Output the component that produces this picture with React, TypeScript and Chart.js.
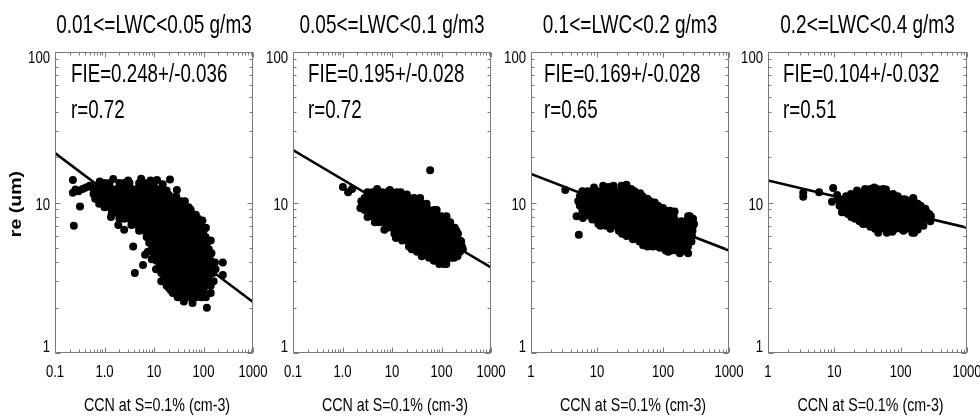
import React, { useEffect, useRef } from 'react';
import { Chart, registerables } from 'chart.js';
Chart.register(...registerables);

type Row = [number, number[]];
type Pt = [number, number];

// ---------- texts ----------
const panelTitles = ['0.01<=LWC<0.05 g/m3', '0.05<=LWC<0.1 g/m3', '0.1<=LWC<0.2 g/m3', '0.2<=LWC<0.4 g/m3'];
const fieLabels = ['FIE=0.248+/-0.036', 'FIE=0.195+/-0.028', 'FIE=0.169+/-0.028', 'FIE=0.104+/-0.032'];
const rLabels = ['r=0.72', 'r=0.72', 'r=0.65', 'r=0.51'];
const xAxisTitle = 'CCN at S=0.1% (cm-3)';
const yAxisTitle = 're (um)';

// ---------- ticks ----------
const xTicksWide = [0.1, 1, 10, 100, 1000];
const xTickLabelsWide = ['0.1', '1.0', '10', '100', '1000'];
const xTicksNarrow = [1, 10, 100, 1000];
const xTickLabelsNarrow = ['1', '10', '100', '1000'];
const yTicks = [1, 10, 100];
const yTickLabels = ['1', '10', '100'];

// ---------- regression lines [CCN, re] ----------
const fit1: Pt[] = [[0.1, 21.3], [1000, 2.18]];
const fit2: Pt[] = [[0.1, 22.3], [1000, 3.7]];
const fit3: Pt[] = [[1, 15.5], [1000, 4.8]];
const fit4: Pt[] = [[1, 14.0], [1000, 6.8]];

// ---------- scatter data: rows of [re, CCN values] + single points [CCN, re] ----------
const p1Rows: Row[] = [
  [13.5, [0.8, 1.0, 1.26, 2.0, 2.5, 3.2, 5.0, 6.3, 8.0, 10]],
  [12.3, [0.71, 0.9, 1.12, 1.4, 1.8, 2.2, 2.8, 3.5, 4.5, 5.6, 7.1, 9.0, 11.2, 14]],
  [11.2, [0.8, 1.0, 1.26, 1.6, 2.0, 2.5, 3.2, 4.0, 5.0, 6.3, 8.0, 10, 12.6, 16, 20]],
  [10.2, [0.9, 1.12, 1.4, 1.8, 2.2, 2.8, 3.5, 4.5, 5.6, 7.1, 9.0, 11.2, 14, 18, 22, 28, 35, 42]],
  [9.3, [1.0, 1.26, 1.6, 2.0, 2.5, 3.2, 4.0, 5.0, 6.3, 8.0, 10, 12.6, 16, 20, 25, 32, 40, 50]],
  [8.5, [1.4, 1.8, 2.2, 2.8, 3.5, 4.5, 5.6, 7.1, 9.0, 11.2, 14, 18, 22, 28, 35, 45, 56]],
  [7.8, [2.0, 2.5, 3.2, 4.0, 5.0, 6.3, 8.0, 10, 12.6, 16, 20, 25, 32, 40, 50, 63, 78]],
  [7.1, [3.5, 4.5, 5.6, 7.1, 9.0, 11.2, 14, 18, 22, 28, 35, 45, 56, 71, 88]],
  [6.5, [5.0, 6.3, 8.0, 10, 12.6, 16, 20, 25, 32, 40, 50, 63, 80, 100]],
  [5.9, [7.1, 9.0, 11.2, 14, 18, 22, 28, 35, 45, 56, 71, 90, 110]],
  [5.4, [8.0, 10, 12.6, 16, 20, 25, 32, 40, 50, 63, 80, 100, 117]],
  [4.9, [9.0, 11.2, 14, 18, 22, 28, 35, 45, 56, 71, 90, 112, 128]],
  [4.5, [10, 12.6, 16, 20, 25, 32, 40, 50, 63, 80, 100, 126]],
  [4.1, [11.2, 14, 18, 22, 28, 35, 45, 56, 71, 90, 112, 140]],
  [3.7, [12.6, 16, 20, 25, 32, 40, 50, 63, 80, 100, 126, 148]],
  [3.4, [14, 18, 22, 28, 35, 45, 56, 71, 90, 112, 140, 155]],
  [3.1, [16, 20, 25, 32, 40, 50, 63, 80, 100, 126]],
  [2.8, [18, 22, 28, 35, 45, 56, 71, 90, 112, 140]],
  [2.6, [22, 25, 32, 40, 50, 63, 80, 100]],
  [2.35, [30, 35, 45, 56, 71, 90, 112]],
];
const p1Extra: Pt[] = [
  [0.23, 14.1], [0.23, 11.6], [0.24, 7.0], [0.32, 9.4], [0.26, 12.2], [0.3, 11.9], [0.36, 12.3],
  [0.42, 12.6], [0.5, 12.9], [0.58, 12.5], [0.8, 13.8], [0.78, 9.8], [1.35, 8.0], [1.9, 7.1],
  [2.5, 6.6], [3.8, 5.1], [4.1, 3.4], [6.0, 3.85], [6.6, 4.5], [11.5, 14.1], [21, 14.2], [29, 12.1],
  [24, 2.5], [117, 2.0], [85, 7.4], [170, 4.0], [245, 4.0], [245, 3.3],
  [1.5, 14.3], [3.0, 14.0], [5.5, 14.4], [8.5, 14.0], [15, 13.2], [18, 12.0], [28, 11.0], [55, 9.0],
  [70, 8.3], [95, 7.6], [112, 6.8], [140, 5.6], [145, 4.6], [175, 3.6], [160, 3.0], [140, 2.5],
  [60, 2.15], [40, 2.2], [20, 2.7], [14, 3.0], [11, 3.6], [9, 4.2], [7.5, 4.7], [0.6, 11.4], [0.65, 10.6],
];

const p2Rows: Row[] = [
  [11.7, [3.2, 4.0, 5.0, 6.3, 8.0, 10, 12.6, 15]],
  [10.7, [2.8, 3.5, 4.5, 5.6, 7.1, 9.0, 11.2, 14, 18, 22, 28, 37]],
  [9.8, [2.5, 3.2, 4.0, 5.0, 6.3, 8.0, 10, 12.6, 16, 20, 25, 32, 40, 50]],
  [8.9, [2.8, 3.5, 4.5, 5.6, 7.1, 9.0, 11.2, 14, 18, 22, 28, 35, 45, 56, 71, 80]],
  [8.1, [4.0, 5.0, 6.3, 8.0, 10, 12.6, 16, 20, 25, 32, 40, 50, 63, 80, 100, 126]],
  [7.4, [5.6, 7.1, 9.0, 11.2, 14, 18, 22, 28, 35, 45, 56, 71, 90, 112, 150]],
  [6.8, [8.0, 10, 12.6, 16, 20, 25, 32, 40, 50, 63, 80, 100, 126, 160, 185]],
  [6.2, [11.2, 14, 18, 22, 28, 35, 45, 56, 71, 90, 112, 140, 180, 215]],
  [5.6, [16, 20, 25, 32, 40, 50, 63, 80, 100, 126, 160, 200, 236]],
  [5.1, [22, 28, 35, 45, 56, 71, 90, 112, 140, 180, 225, 258]],
  [4.7, [32, 40, 50, 63, 80, 100, 126, 160, 200, 236]],
  [4.3, [56, 71, 90, 112, 140, 180]],
  [3.9, [90, 112, 125]],
];
const p2Extra: Pt[] = [
  [1.02, 12.7], [1.3, 11.7], [1.56, 12.3], [59, 16.4],
  [5.0, 12.3], [9, 12.1], [20, 11.3], [30, 10.2], [45, 9.4], [60, 8.5], [95, 7.8], [130, 7.0],
  [200, 6.5], [250, 5.5], [270, 4.9], [160, 4.3], [210, 4.4], [70, 4.1], [40, 4.4], [25, 4.9],
  [12, 5.8], [7, 6.6], [4.5, 7.4], [3.2, 8.0], [2.3, 9.2], [2.4, 10.2],
];

const p3Rows: Row[] = [
  [12.9, [12.4, 17.8, 23.5]],
  [11.9, [6.0, 7.2, 8.6, 10.3, 12.4, 14.9, 17.8, 21.4, 25.7, 30.8, 37]],
  [11.0, [5.5, 6.6, 7.9, 9.4, 11.3, 13.6, 16.3, 19.6, 23.5, 28, 34, 40, 49]],
  [10.2, [5.2, 6.0, 7.2, 8.6, 10.3, 12.4, 14.9, 17.8, 21.4, 25.7, 30.8, 37, 44, 53, 64]],
  [9.5, [5.5, 6.6, 7.9, 9.4, 11.3, 13.6, 16.3, 19.6, 23.5, 28, 34, 40, 49, 58, 70, 84]],
  [8.8, [6.0, 7.2, 8.6, 10.3, 12.4, 14.9, 17.8, 21.4, 25.7, 30.8, 37, 44, 53, 64, 77, 92, 110, 128]],
  [8.1, [7.9, 9.4, 11.3, 13.6, 16.3, 19.6, 23.5, 28, 34, 40, 49, 58, 70, 84, 101, 121, 145, 240, 255]],
  [7.5, [10.3, 12.4, 14.9, 17.8, 21.4, 25.7, 30.8, 37, 44, 53, 64, 77, 92, 110, 132, 159, 190, 228, 280]],
  [7.0, [11.3, 13.6, 16.3, 19.6, 23.5, 28, 34, 40, 49, 58, 70, 84, 101, 121, 145, 174, 209, 250, 285]],
  [6.5, [21.4, 25.7, 30.8, 37, 44, 53, 64, 77, 92, 110, 132, 159, 190, 228, 280]],
  [6.0, [28, 34, 40, 49, 58, 70, 84, 101, 121, 145, 174, 209, 250, 275]],
  [5.5, [44, 53, 64, 77, 92, 110, 132, 159, 190, 228, 257]],
  [5.1, [58, 70, 84, 101, 121, 145, 174, 209, 239]],
  [4.8, [110, 132, 159, 190, 215]],
];
const p3Extra: Pt[] = [
  [3.3, 12.1], [4.9, 8.1], [5.3, 6.1], [6.1, 7.9], [7.3, 8.3], [28, 13.1],
  [9, 12.6], [15, 12.7], [33, 12.3], [45, 11.5], [58, 10.6], [75, 10.0], [100, 9.2], [150, 8.7],
  [285, 7.8], [295, 7.2], [270, 5.5], [240, 4.6], [180, 4.6], [120, 4.7], [90, 5.0], [50, 5.2],
  [35, 5.7], [24, 6.2], [16, 6.7], [10.5, 7.2], [8.5, 7.7],
];

const p4Rows: Row[] = [
  [12.3, [29, 35, 44, 54]],
  [11.4, [17.8, 21.4, 25.7, 30.8, 37, 44, 53, 64, 77]],
  [10.5, [11.3, 13.6, 16.3, 19.6, 23.5, 28, 34, 40, 49, 58, 70, 84, 101, 115]],
  [9.8, [12.4, 14.9, 17.8, 21.4, 25.7, 30.8, 37, 44, 53, 64, 77, 92, 110, 132, 159, 180]],
  [9.1, [13.6, 16.3, 19.6, 23.5, 28, 34, 40, 49, 58, 70, 84, 101, 121, 145, 174, 209, 235]],
  [8.4, [16, 17.8, 21.4, 25.7, 30.8, 37, 44, 53, 64, 77, 92, 110, 132, 159, 190, 228, 270]],
  [7.8, [20.5, 23.5, 28, 34, 40, 49, 58, 70, 84, 101, 121, 145, 174, 209, 250, 275]],
  [7.2, [27, 30.8, 37, 44, 53, 64, 77, 92, 110, 132, 159, 190]],
  [6.7, [41, 49, 58, 70, 84, 101, 121, 145, 160]],
  [6.3, [46, 62, 150]],
];
const p4Extra: Pt[] = [
  [3.4, 11.6], [3.4, 10.9], [5.9, 11.7], [9.6, 12.5], [11, 11.2], [9.2, 10.1],
  [155, 10.7], [158, 10.2], [155, 6.5], [160, 6.3],
  [22, 12.0], [40, 12.6], [60, 12.2], [90, 11.0], [130, 10.3], [200, 9.5], [240, 8.8], [285, 8.1],
  [280, 7.5], [220, 7.0], [180, 6.6], [110, 6.5], [75, 6.4], [35, 6.9], [24, 7.5], [18, 8.0],
  [13, 8.6], [12, 9.5], [15, 11.0],
];

// ---------- layout (pixels) ----------
const W = 980;
const H = 417;
const PLOT_TOP = 52;
const PLOT_BOTTOM = 353;
const FONT = '"Liberation Sans", Arial, sans-serif';

interface Panel {
  left: number; right: number; xMin: number; xMax: number;
  xTicks: number[]; xLabels: string[];
  rows: Row[]; extra: Pt[]; fit: Pt[];
  title: string; fie: string; r: string; textDx: number; showYTitle: boolean;
}

const panels: Panel[] = [
  { left: 55, right: 253, xMin: 0.1, xMax: 1000, xTicks: xTicksWide, xLabels: xTickLabelsWide, rows: p1Rows, extra: p1Extra, fit: fit1, title: panelTitles[0], fie: fieLabels[0], r: rLabels[0], textDx: 16, showYTitle: true },
  { left: 293, right: 491, xMin: 0.1, xMax: 1000, xTicks: xTicksWide, xLabels: xTickLabelsWide, rows: p2Rows, extra: p2Extra, fit: fit2, title: panelTitles[1], fie: fieLabels[1], r: rLabels[1], textDx: 15, showYTitle: false },
  { left: 531, right: 729, xMin: 1, xMax: 1000, xTicks: xTicksNarrow, xLabels: xTickLabelsNarrow, rows: p3Rows, extra: p3Extra, fit: fit3, title: panelTitles[2], fie: fieLabels[2], r: rLabels[2], textDx: 13, showYTitle: false },
  { left: 768, right: 967, xMin: 1, xMax: 1000, xTicks: xTicksNarrow, xLabels: xTickLabelsNarrow, rows: p4Rows, extra: p4Extra, fit: fit4, title: panelTitles[3], fie: fieLabels[3], r: rLabels[3], textDx: 15, showYTitle: false },
];

function toPoints(rows: Row[], extra: Pt[]) {
  const out: { x: number; y: number }[] = [];
  rows.forEach(([re, ns]) => ns.forEach((n) => out.push({ x: n, y: re })));
  extra.forEach(([n, re]) => out.push({ x: n, y: re }));
  return out;
}

function drawText(ctx: CanvasRenderingContext2D, text: string, x: number, y: number, font: string, sx: number, align: CanvasTextAlign, baseline: CanvasTextBaseline = 'alphabetic') {
  ctx.save();
  ctx.font = font;
  ctx.fillStyle = '#000';
  ctx.textAlign = align;
  ctx.textBaseline = baseline;
  ctx.translate(x, y);
  ctx.scale(sx, 1);
  ctx.fillText(text, 0, 0);
  ctx.restore();
}

function makeDecor(p: Panel) {
  return {
    id: 'decor',
    afterDatasetsDraw(chart: any) {
      const ctx: CanvasRenderingContext2D = chart.ctx;
      const { left, right, top, bottom } = chart.chartArea;
      const xs = chart.scales.x;
      const ys = chart.scales.y;
      const l = Math.round(left) + 0.5;
      const r = Math.round(right) - 0.5;
      const t = Math.round(top) + 0.5;
      const b = Math.round(bottom) - 0.5;
      ctx.save();
      ctx.strokeStyle = '#7a7a7a';
      ctx.lineWidth = 1;
      ctx.strokeRect(l, t, r - l, b - t);
      ctx.beginPath();
      const e0x = Math.round(Math.log10(p.xMin));
      const e1x = Math.round(Math.log10(p.xMax));
      for (let e = e0x; e <= e1x; e++) {
        for (let k = 1; k <= 9; k++) {
          if (e === e1x && k > 1) break;
          const v = k * Math.pow(10, e);
          const px = Math.round(xs.getPixelForValue(v)) + 0.5;
          const len = k === 1 ? 5 : 3;
          ctx.moveTo(px, b); ctx.lineTo(px, b - len);
          ctx.moveTo(px, t); ctx.lineTo(px, t + len);
        }
      }
      for (let e = 0; e <= 2; e++) {
        for (let k = 1; k <= 9; k++) {
          if (e === 2 && k > 1) break;
          const v = k * Math.pow(10, e);
          const py = Math.round(ys.getPixelForValue(v)) + 0.5;
          const len = k === 1 ? 5 : 3;
          ctx.moveTo(l, py); ctx.lineTo(l + len, py);
          ctx.moveTo(r, py); ctx.lineTo(r - len, py);
        }
      }
      ctx.stroke();
      ctx.restore();
    },
    afterDraw(chart: any) {
      const ctx: CanvasRenderingContext2D = chart.ctx;
      const { left, right, top, bottom } = chart.chartArea;
      const xs = chart.scales.x;
      const ys = chart.scales.y;
      const cx = (left + right) / 2;
      drawText(ctx, p.title, cx, 33, `25px ${FONT}`, 0.76, 'center');
      drawText(ctx, p.fie, left + p.textDx, 82, `25px ${FONT}`, 0.75, 'left');
      drawText(ctx, p.r, left + p.textDx, 118, `25px ${FONT}`, 0.75, 'left');
      p.xTicks.forEach((v, i) => {
        drawText(ctx, p.xLabels[i], xs.getPixelForValue(v), 377, `16px ${FONT}`, 0.82, 'center');
      });
      yTicks.forEach((v, i) => {
        const py = Math.min(Math.max(ys.getPixelForValue(v) + 3.5, top + 7), bottom - 5);
        drawText(ctx, yTickLabels[i], left - 5, py, `16px ${FONT}`, 0.82, 'right', 'middle');
      });
      drawText(ctx, xAxisTitle, cx + 3, 411, `19px ${FONT}`, 0.75, 'center');
      if (p.showYTitle) {
        ctx.save();
        ctx.translate(16, 204);
        ctx.rotate(-Math.PI / 2);
        drawText(ctx, yAxisTitle, 0, 0, `bold 17px ${FONT}`, 1.15, 'center', 'middle');
        ctx.restore();
      }
    },
  };
}

function PanelChart({ p }: { p: Panel }) {
  const ref = useRef<HTMLCanvasElement | null>(null);
  useEffect(() => {
    if (!ref.current) return;
    const chart = new Chart(ref.current, {
      type: 'scatter',
      data: {
        datasets: [
          {
            data: toPoints(p.rows, p.extra),
            pointRadius: 4,
            pointBackgroundColor: '#000',
            pointBorderWidth: 0,
            showLine: false,
          },
          {
            data: p.fit.map(([x, y]) => ({ x, y })),
            showLine: true,
            borderColor: '#000',
            borderWidth: 2.6,
            pointRadius: 0,
          },
        ],
      },
      options: {
        responsive: false,
        animation: false,
        devicePixelRatio: 1,
        events: [],
        layout: { padding: { left: p.left, right: W - p.right, top: PLOT_TOP, bottom: H - PLOT_BOTTOM } },
        scales: {
          x: { type: 'logarithmic', min: p.xMin, max: p.xMax, display: false },
          y: { type: 'logarithmic', min: 1, max: 100, display: false },
        },
        plugins: { legend: { display: false }, tooltip: { enabled: false }, title: { display: false } },
      } as any,
      plugins: [makeDecor(p)],
    });
    return () => chart.destroy();
  }, [p]);
  return (
    <canvas
      ref={ref}
      width={W}
      height={H}
      style={{ position: 'absolute', left: 0, top: 0, width: W, height: H }}
    />
  );
}

export default function App() {
  return (
    <div style={{ position: 'absolute', left: 0, top: 0, width: W, height: H, background: '#fff', overflow: 'hidden' }}>
      {panels.map((p, i) => (
        <PanelChart key={i} p={p} />
      ))}
    </div>
  );
}
